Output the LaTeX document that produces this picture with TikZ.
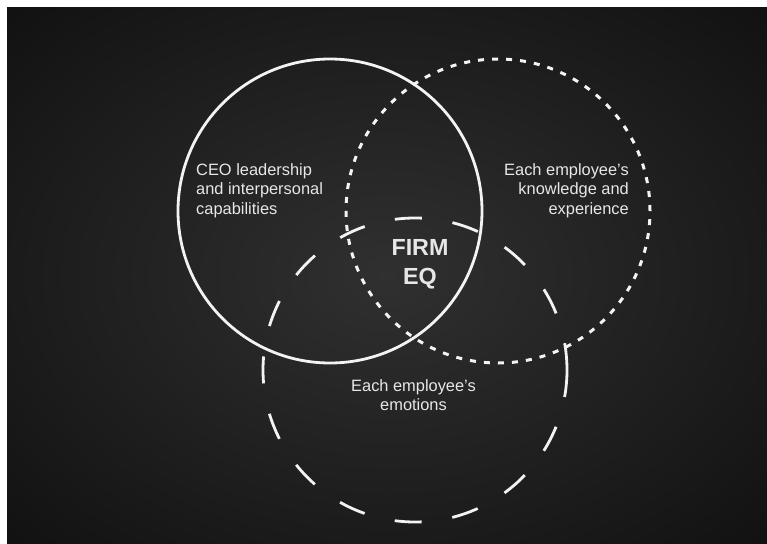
\documentclass[tikz,border=0pt]{standalone}
\usepackage{fontspec}
\setmainfont{Liberation Sans}
\definecolor{glowin}{RGB}{48,48,48}
\definecolor{glowout}{RGB}{17,17,17}
\definecolor{chalk}{RGB}{243,243,243}
\pgfdeclareradialshading{panelglow}{\pgfpoint{0bp}{0bp}}{color(0bp)=(glowin); color(36bp)=(glowout); color(50bp)=(glowout)}
\tikzset{
	ring/.style={draw=chalk, line width=2.8pt},
	venntext/.style={text=chalk!95!black, inner sep=0pt, font=\fontsize{16.4}{19.5}\selectfont},
}

\begin{document}
\begin{tikzpicture}[x=1pt, y=-1pt]
\useasboundingbox (0,0) rectangle (767,543);
\fill[white] (0,0) rectangle (767,543);
\shade[shading=panelglow] (7,8) rectangle (767,543);
% the three rings
\draw[ring] (330,211) circle[radius=152pt];
	\draw[ring, line width=3pt, dash pattern=on 6pt off 8.045pt] (498,211) circle[radius=152pt];
	\draw[ring, dash pattern=on 27pt off 31pt] (415,370) circle[radius=152pt];
% captions
\node[venntext, anchor=north west, align=left] (ceo) at (196,163) {CEO leadership\\and interpersonal\\capabilities};
\node[venntext, anchor=north east, align=right] (know) at (629,163) {Each employee's\\knowledge and\\experience};
\node[venntext, anchor=north, align=center] (emo) at (413.5,379) {Each employee's\\emotions};
\node[venntext, anchor=north, align=center, font=\bfseries\fontsize{23.3}{29}\selectfont] (firm) at (420,239.3) {FIRM\\EQ};
\end{tikzpicture}
\end{document}
